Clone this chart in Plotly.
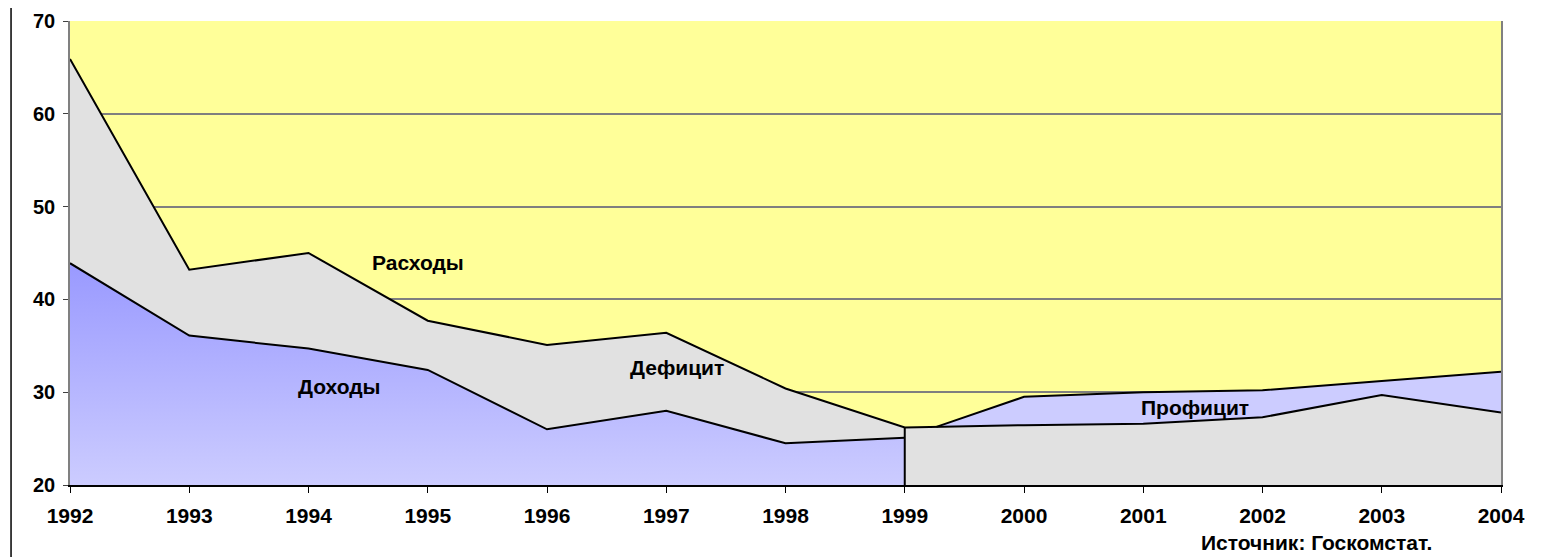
import plotly.graph_objects as go

years = [1992, 1993, 1994, 1995, 1996, 1997, 1998, 1999, 2000, 2001, 2002, 2003, 2004]
revenue = [43.9, 36.1, 34.7, 32.4, 26.0, 28.0, 24.5, 25.1, 29.5, 30.0, 30.2, 31.2, 32.2]
expenditure = [65.9, 43.2, 45.0, 37.7, 35.1, 36.4, 30.4, 26.2, 26.45, 26.6, 27.3, 29.7, 27.8]
split = 7  # index of 1999

labels = ["Расходы", "Доходы", "Дефицит", "Профицит"]
label_x = [1994.92, 1994.26, 1997.09, 2001.43]
label_y = [44.0, 30.6, 32.7, 28.4]
source_text = "Источник: Госкомстат."

FONT = "Arial, Liberation Sans, sans-serif"
GREY = "#e1e1e1"

fig = go.Figure()

# profit area (under grey)
fig.add_trace(go.Scatter(x=years[split:], y=revenue[split:], mode="lines", line=dict(width=0),
                         fill="tozeroy", fillcolor="#ccccff", hoverinfo="skip", showlegend=False))
# grey expenditure area after 1999
fig.add_trace(go.Scatter(x=years[split:], y=expenditure[split:], mode="lines", line=dict(width=0),
                         fill="tozeroy", fillcolor=GREY, hoverinfo="skip", showlegend=False))
# revenue area 1992-1999 with gradient
fig.add_trace(go.Scatter(x=years[:split + 1], y=revenue[:split + 1], mode="lines", line=dict(width=0),
                         fill="tozeroy",
                         fillgradient=dict(type="vertical", start=20, stop=44,
                                           colorscale=[[0, "#ccccff"], [1, "#9999ff"]]),
                         hoverinfo="skip", showlegend=False))
# deficit area
fig.add_trace(go.Scatter(x=years[:split + 1], y=expenditure[:split + 1], mode="lines", line=dict(width=0),
                         fill="tonexty", fillcolor=GREY, hoverinfo="skip", showlegend=False))

# lines
LINE = dict(color="black", width=2)
fig.add_trace(go.Scatter(x=years, y=expenditure, mode="lines", line=LINE, hoverinfo="skip", showlegend=False))
fig.add_trace(go.Scatter(x=years[:split + 1], y=revenue[:split + 1], mode="lines", line=LINE,
                         hoverinfo="skip", showlegend=False))
# revenue after it crosses expenditure (1999-2000)
r0, r1 = revenue[split], revenue[split + 1]
e0, e1 = expenditure[split], expenditure[split + 1]
t = (e0 - r0) / ((r1 - r0) - (e1 - e0))
cx = years[split] + t * (years[split + 1] - years[split])
cy = r0 + t * (r1 - r0)
fig.add_trace(go.Scatter(x=[cx] + years[split + 1:], y=[cy] + revenue[split + 1:], mode="lines", line=LINE,
                         hoverinfo="skip", showlegend=False))

fig.add_shape(type="line", xref="x", yref="y", x0=years[split], x1=years[split],
              y0=20, y1=expenditure[split], line=LINE)
# outer frame line on the left
fig.add_shape(type="line", xref="paper", yref="paper", x0=-0.0412, x1=-0.0412, y0=-0.2, y1=1.1,
              line=dict(color="black", width=1.5))

for txt, x, y in zip(labels, label_x, label_y):
    fig.add_annotation(x=x, y=y, text=f"<b>{txt}</b>", showarrow=False,
                       font=dict(family=FONT, size=21, color="black"))

fig.add_annotation(xref="paper", yref="paper", x=0.8714, y=-0.1235, text=f"<b>{source_text}</b>",
                   showarrow=False, xanchor="center", yanchor="middle",
                   font=dict(family=FONT, size=21, color="black"))

# the page body adds an 8px offset; compensate in size and margins
fig.update_layout(
    width=1538, height=549,
    margin=dict(l=62, r=45, t=13, b=72, autoexpand=False),
    plot_bgcolor="#ffff99", paper_bgcolor="white",
    font=dict(family=FONT, size=20, color="black"),
    xaxis=dict(range=[1992, 2004], tickvals=years, ticktext=[str(y) for y in years],
               showgrid=False, zeroline=False, showline=True, linecolor="black", linewidth=2,
               ticks="outside", ticklen=6, tickcolor="black", tickwidth=1, automargin=False,
               tickfont=dict(family=FONT, size=21, weight="bold"), ticklabelstandoff=5),
    yaxis=dict(range=[20, 70], dtick=10, showgrid=True, gridcolor="#7f7f7f", gridwidth=1.6,
               zeroline=False, showline=True, linecolor="#808080", linewidth=1.6, mirror=True,
               ticks="outside", ticklen=5, tickcolor="#404040", automargin=False,
               tickfont=dict(family=FONT, size=20, weight="bold"), ticklabelstandoff=4),
)

fig.write_html("out.html")
